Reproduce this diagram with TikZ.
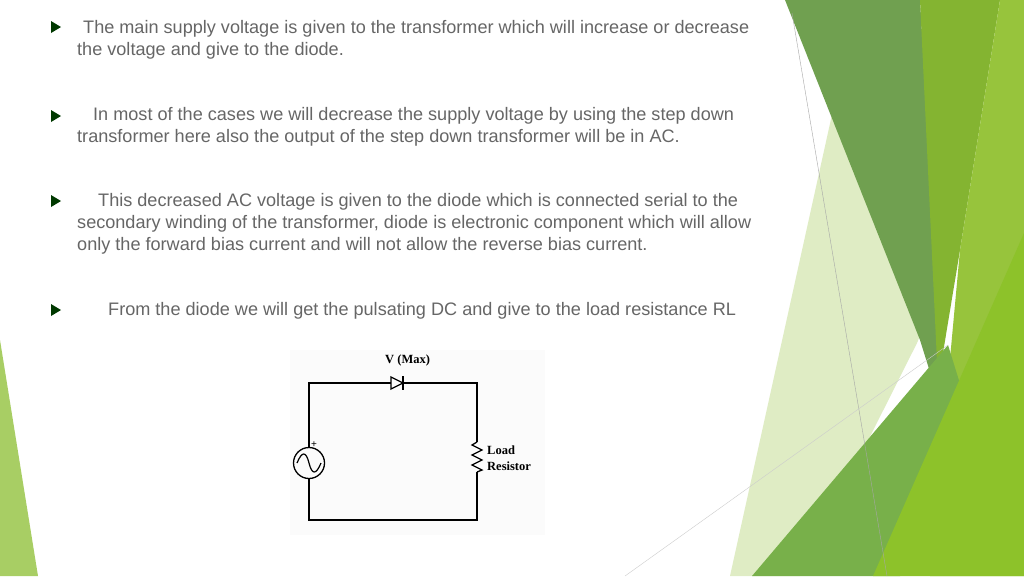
\documentclass[tikz,border=0pt]{standalone}
\usepackage{fontspec}
\setmainfont{Liberation Sans}
\newfontfamily\serifb{Liberation Serif}
\begin{document}
\begin{tikzpicture}[x=1pt,y=-1pt,
  txt/.style={anchor=base west,inner sep=0,text=black!60,font=\fontsize{18.1}{20}\selectfont},
  wire/.style={line width=1.3pt},
  lbl/.style={inner sep=0,font=\serifb\bfseries\fontsize{12.5}{14}\selectfont,anchor=base west}]
\useasboundingbox (0,0) rectangle (1024,576);
\fill[white] (0,0) rectangle (1024,576);
% decorative shapes
\fill[color={rgb,255:red,223;green,236;blue,196}] (833,110) -- (935,300) -- (917,343) -- (800,576) -- (730,576) -- cycle;
\fill[color={rgb,255:red,112;green,160;blue,80}] (785,0) -- (920,0) -- (945,420) -- (920,340) -- cycle;
\fill[color={rgb,255:red,132;green,180;blue,49}] (920,0) -- (1000,0) -- (960,250) -- (938,383) -- cycle;
\fill[color={rgb,255:red,151;green,196;blue,60}] (1000,0) -- (1024,0) -- (1024,576) -- (930,576) -- (960,250) -- cycle;
\fill[color={rgb,255:red,120;green,176;blue,74}] (752,576) -- (948,345) -- (965,400) -- (900,576) -- cycle;
\fill[color={rgb,255:red,141;green,194;blue,42}] (873,576) -- (1024,233) -- (1024,576) -- cycle;
\fill[color={rgb,255:red,168;green,206;blue,100}] (0,340) -- (38,576) -- (0,576) -- cycle;
\draw[black!35,line width=.4pt] (792,13) -- (887,576);
\draw[black!20,line width=.4pt] (625,576) -- (948,345);
% bullets
\foreach \y in {27,116,201,310}
  \fill[black!55!green!50!black] (51,\y-6) -- (61,\y) -- (51,\y+6) -- cycle;
\node[txt] (t1) at (83,33) {The main supply voltage is given to the transformer which will increase or decrease};
\node[txt] (t2) at (77,55) {the voltage and give to the diode.};
\node[txt] (t3) at (93,120) {In most of the cases we will decrease the supply voltage by using the step down};
\node[txt] (t4) at (77,142) {transformer here also the output of the step down transformer will be in AC.};
\node[txt] (t5) at (98,206) {This decreased AC voltage is given to the diode which is connected serial to the};
\node[txt] (t6) at (77,228) {secondary winding of the transformer, diode is electronic component which will allow};
\node[txt] (t7) at (77,250) {only the forward bias current and will not allow the reverse bias current.};
\node[txt] (t8) at (108,315) {From the diode we will get the pulsating DC and give to the load resistance RL};
% circuit
\fill[black!1.5] (290,350) rectangle (545,535);
\coordinate (tl) at (309,383); \coordinate (tr) at (477,383);
\coordinate (bl) at (309,520); \coordinate (br) at (477,520);
\node[circle,draw,line width=1.3pt,minimum size=31pt,inner sep=0] (src) at (309,463) {};
\draw[line width=1.2pt] (297,463) .. controls (302,451) and (306,451) .. (309,463) .. controls (312,475) and (316,475) .. (321,463);
\node[font=\fontsize{10}{10}\selectfont,inner sep=0] (plus) at (314,445) {+};
\draw[wire] (src.north) -- (tl) -- (391,383);
\draw[wire] (403,383) -- (tr) -- (477,442);
\draw[wire,line join=miter] (391,377) -- (403,383) -- (391,389) -- cycle;
\draw[wire] (403,376) -- (403,390);
\draw[wire,line join=miter] (477,442) -- (472,445) -- (482,450) -- (472,455) -- (482,460) -- (472,465) -- (482,470) -- (477,472);
\draw[wire] (477,472) -- (br) -- (bl) -- (src.south);
\node[lbl] (vmax) at (385,363) {V (Max)};
\node[lbl] (ld) at (487,454) {Load};
\node[lbl] (rs) at (487,470) {Resistor};
\end{tikzpicture}
\end{document}
